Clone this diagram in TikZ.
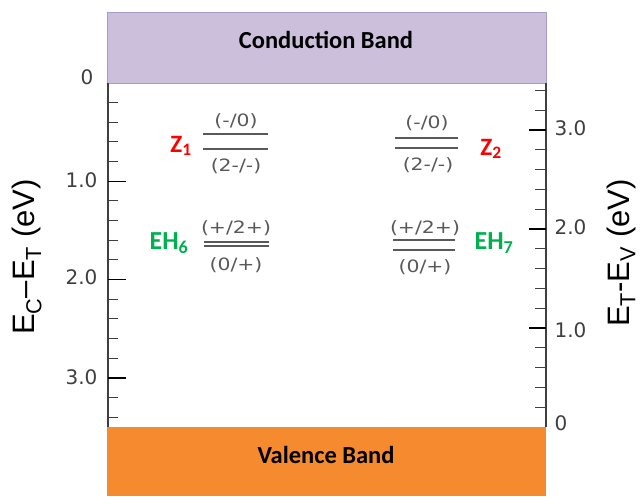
\documentclass[tikz,border=0pt]{standalone}
\usepackage{fontspec}
\setmainfont{Carlito}
\newfontfamily\dejavu{DejaVu Sans}
\newfontfamily\libsans{Liberation Sans}
\definecolor{cbfill}{HTML}{CBBFDB}
\definecolor{cbedge}{HTML}{A99BC8}
\definecolor{vbfill}{HTML}{F58A2F}
\definecolor{axisgray}{HTML}{3F3F3F}
\definecolor{levgray}{HTML}{595959}
\definecolor{zred}{HTML}{FF0000}
\definecolor{ehgreen}{HTML}{00B050}
\newcommand{\chg}[1]{\scalebox{1.2}[1]{#1}}
\tikzset{
  axisline/.style={draw=axisgray, line width=1.4pt},
  majortick/.style={draw=black, line width=1.6pt},
  minortick/.style={draw=axisgray, line width=1pt},
  levelline/.style={draw=levgray, line width=1.3pt},
  bandlbl/.style={font=\fontsize{24.5}{26}\selectfont\bfseries, text=black},
  ticklbl/.style={font=\dejavu\fontsize{20}{22}\selectfont, text=axisgray},
  axislbl/.style={font=\libsans\fontsize{31}{33}\selectfont, text=black, rotate=90},
  chglbl/.style={font=\dejavu\fontsize{17}{19}\selectfont, text=levgray},
  zlbl/.style={font=\fontsize{25}{27}\selectfont\bfseries, text=zred},
  ehlbl/.style={font=\fontsize{26}{28}\selectfont\bfseries, text=ehgreen}
}
\begin{document}
\begin{tikzpicture}[x=1pt,y=-1pt]
\useasboundingbox (0,0) rectangle (644,496);
\fill[white] (0,0) rectangle (644,496);
% bands
\draw[fill=cbfill, draw=cbedge, line width=0.8pt] (107,12) rectangle (546,83);
\node[bandlbl] (cb) at (326,40) {Conduction Band};
\fill[vbfill] (107,427) rectangle (546,496);
\node[bandlbl] (vb) at (326,455) {Valence Band};
% left axis
\draw[axisline] (108,83) -- (108,427);
\foreach \v in {1,2,3} {\draw[majortick] (108,{83+\v*98.3}) -- (126,{83+\v*98.3});}
\foreach \v in {0.2,0.4,0.6,0.8,1.2,1.4,1.6,1.8,2.2,2.4,2.6,2.8,3.2,3.4} {\draw[minortick] (108,{83+\v*98.3}) -- (118,{83+\v*98.3});}
\node[ticklbl, anchor=east] (l0) at (97,77) {0};
\node[ticklbl, anchor=east] (l1) at (101,180) {1.0};
\node[ticklbl, anchor=east] (l2) at (101,277) {2.0};
\node[ticklbl, anchor=east] (l3) at (101,377) {3.0};
% right axis
\draw[axisline] (546,83) -- (546,427);
\foreach \v in {1,2,3} {\draw[majortick] (529,{427-\v*99}) -- (546,{427-\v*99});}
\foreach \v in {0.2,0.4,0.6,0.8,1.2,1.4,1.6,1.8,2.2,2.4,2.6,2.8,3.2,3.4} {\draw[minortick] (535,{427-\v*99}) -- (546,{427-\v*99});}
\node[ticklbl, anchor=west] (r0) at (551,423) {0};
\node[ticklbl, anchor=west] (r1) at (551,330) {1.0};
\node[ticklbl, anchor=west] (r2) at (551,227) {2.0};
\node[ticklbl, anchor=west] (r3) at (551,128) {3.0};
% axis titles
\node[axislbl] (ltitle) at (27,257) {E\textsubscript{C}–E\textsubscript{T} (eV)};
\node[axislbl] (rtitle) at (621,253) {E\textsubscript{T}-E\textsubscript{V} (eV)};
% Z1
\draw[levelline] (203,134) -- (268,134);
\draw[levelline] (203,149) -- (268,149);
\node[chglbl] (z1a) at (236,121) {\chg{(-/0)}};
\node[chglbl] (z1b) at (236,166) {\chg{(2-/-)}};
\node[zlbl] (z1) at (181,146) {Z\textsubscript{1}};
% Z2
\draw[levelline] (395,138) -- (458,138);
\draw[levelline] (395,148) -- (458,148);
\node[chglbl] (z2a) at (427,123) {\chg{(-/0)}};
\node[chglbl] (z2b) at (428,165) {\chg{(2-/-)}};
\node[zlbl] (z2) at (491,149) {Z\textsubscript{2}};
% EH6
\draw[levelline] (204,242) -- (269,242);
\draw[levelline] (204,246) -- (269,246);
\node[chglbl] (e6a) at (236,228) {\chg{(+/2+)}};
\node[chglbl] (e6b) at (236,265) {\chg{(0/+)}};
\node[ehlbl] (eh6) at (169,243) {EH\textsubscript{6}};
% EH7
\draw[levelline] (393,240) -- (455,240);
\draw[levelline] (393,250) -- (455,250);
\node[chglbl] (e7a) at (425,228) {\chg{(+/2+)}};
\node[chglbl] (e7b) at (425,267) {\chg{(0/+)}};
\node[ehlbl] (eh7) at (494,243) {EH\textsubscript{7}};
\end{tikzpicture}
\end{document}
